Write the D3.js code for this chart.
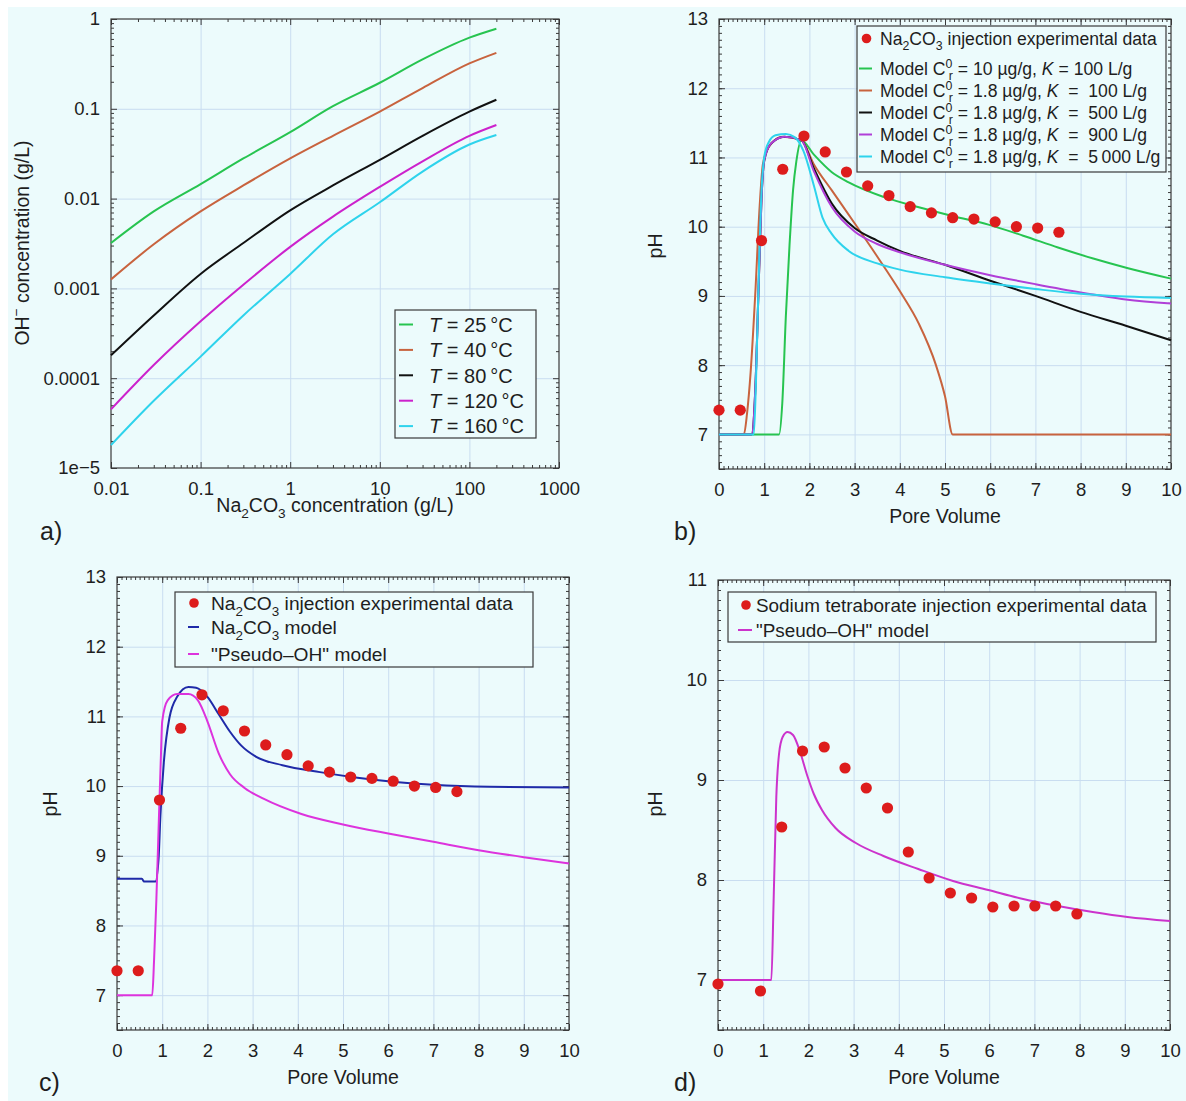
<!DOCTYPE html>
<html>
<head>
<meta charset="utf-8">
<script src="https://cdn.jsdelivr.net/npm/d3@7"></script>
<style>
  body { margin: 0; background: #fff; }
  svg { display: block; font-family: "Liberation Sans", Arial, Helvetica, sans-serif; }
</style>
</head>
<body>
<svg id="chart" width="1186" height="1101"></svg>
<script>
// ---- panel a: OH- vs Na2CO3 concentration (log-log)
const concX = [0.01, 0.03, 0.1, 0.3, 1, 3, 10, 30, 100, 200];
const oh25 = [0.0032, 0.0072, 0.0145, 0.028, 0.055, 0.107, 0.195, 0.355, 0.62, 0.78];
const oh40 = [0.00126, 0.0031, 0.0072, 0.014, 0.028, 0.05, 0.093, 0.17, 0.32, 0.42];
const oh80 = [0.00018, 0.0005, 0.00145, 0.0032, 0.0074, 0.014, 0.027, 0.05, 0.093, 0.126];
const oh120 = [0.000045, 0.00014, 0.00043, 0.0011, 0.0029, 0.0063, 0.0135, 0.026, 0.05, 0.066];
const oh160 = [0.000018, 0.000056, 0.000174, 0.0005, 0.00145, 0.004, 0.0091, 0.02, 0.04, 0.051];
const tempLabels = ['25', '40', '80', '120', '160'];
const logXTicks = [0.01, 0.1, 1, 10, 100, 1000];
const logXLabels = ['0.01', '0.1', '1', '10', '100', '1000'];
const logYTicks = [1e-5, 1e-4, 1e-3, 0.01, 0.1, 1];
const logYLabels = ['1e\u22125', '0.0001', '0.001', '0.01', '0.1', '1'];

// ---- panels b, c: Na2CO3 injection experimental data
const naPV = [0, 0.47, 0.94, 1.41, 1.88, 2.35, 2.82, 3.29, 3.76, 4.23, 4.70, 5.17, 5.64, 6.11, 6.58, 7.05, 7.52];
const naPH = [7.35, 7.35, 9.80, 10.83, 11.31, 11.08, 10.79, 10.59, 10.45, 10.29, 10.20, 10.13, 10.11, 10.07, 10.00, 9.98, 9.92];

// panel b models [pore volume, pH]
const modelC10K100 = [[0,7],[1.33,7],[1.40,7.45],[1.48,8.72],[1.56,9.73],[1.64,10.54],[1.71,10.94],[1.82,11.25],[2.1,11.04],[2.49,10.79],[2.87,10.64],[3.64,10.43],[4.42,10.28],[5.19,10.15],[5.96,10.03],[6.73,9.87],[7.5,9.7],[8.28,9.54],[9.05,9.4],[10,9.25]];
const modelK100 = [[0,7],[0.55,7],[0.62,7.3],[0.7,7.9],[0.8,9.0],[0.9,10.3],[0.97,10.9],[1.1,11.15],[1.4,11.3],[1.82,11.25],[2.1,10.9],[2.5,10.52],[3.0,10.05],[3.5,9.57],[4.0,9.07],[4.42,8.6],[4.8,8.0],[5.0,7.55],[5.17,7.0],[10,7]];
const modelK500 = [[0,7],[0.72,7],[0.8,7.6],[0.88,9.2],[0.94,10.4],[1.0,10.95],[1.15,11.2],[1.45,11.3],[1.82,11.25],[2.1,10.84],[2.5,10.33],[3.0,9.98],[3.5,9.8],[4.0,9.65],[5.0,9.45],[6.0,9.22],[7.0,9.0],[8.0,8.77],[9.0,8.57],[10,8.36]];
const modelK900 = [[0,7],[0.72,7],[0.8,7.6],[0.88,9.2],[0.94,10.4],[1.0,10.95],[1.15,11.2],[1.45,11.3],[1.82,11.25],[2.1,10.8],[2.5,10.28],[3.0,9.93],[3.5,9.75],[4.0,9.63],[5.0,9.45],[6.0,9.3],[7.0,9.17],[8.0,9.05],[9.0,8.95],[10,8.89]];
const modelK5000 = [[0,7],[0.77,7],[0.82,7.8],[0.88,9.3],[0.94,10.5],[1.0,11.0],[1.1,11.22],[1.25,11.32],[1.48,11.34],[1.68,11.29],[1.87,11.09],[2.1,10.59],[2.29,10.13],[2.49,9.9],[2.87,9.65],[3.5,9.47],[4.0,9.38],[5.0,9.27],[6.0,9.18],[7.0,9.1],[8.0,9.03],[9.0,8.99],[10,8.97]];
const modelCLabels = ['10', '1.8', '1.8', '1.8', '1.8'];
const modelKValues = ['100', '100', '500', '900', '5\u2009000'];

// panel c models
const naModel = [[0,8.67],[0.55,8.67],[0.6,8.63],[0.85,8.63],[0.92,8.96],[0.96,9.57],[1.04,10.37],[1.16,10.98],[1.33,11.28],[1.58,11.42],[1.75,11.41],[2.0,11.28],[2.25,11.03],[2.5,10.78],[2.75,10.58],[3.08,10.42],[3.66,10.3],[4.49,10.2],[5.32,10.12],[6.16,10.06],[6.99,10.02],[8.24,9.99],[10,9.98]];
const pseudoOHc = [[0,7],[0.78,7],[0.82,7.5],[0.87,8.35],[0.93,9.6],[0.97,10.4],[1.0,10.93],[1.12,11.23],[1.33,11.32],[1.58,11.32],[1.79,11.23],[2.0,10.93],[2.25,10.47],[2.5,10.17],[2.83,9.97],[3.24,9.82],[4.08,9.6],[5.0,9.45],[6.0,9.32],[7.0,9.2],[8.0,9.08],[9.0,8.98],[10,8.89]];

// ---- panel d: sodium tetraborate
const boratePV = [0, 0.94, 1.41, 1.87, 2.35, 2.81, 3.28, 3.75, 4.21, 4.67, 5.14, 5.61, 6.08, 6.55, 7.01, 7.47, 7.94];
const boratePH = [6.96, 6.89, 8.53, 9.29, 9.33, 9.12, 8.92, 8.72, 8.28, 8.02, 7.87, 7.82, 7.73, 7.74, 7.74, 7.74, 7.66];
const pseudoOHd = [[0,7],[1.18,7],[1.23,7.78],[1.29,8.83],[1.35,9.26],[1.43,9.43],[1.54,9.48],[1.66,9.45],[1.81,9.29],[1.97,9.05],[2.12,8.86],[2.3,8.7],[2.6,8.52],[3.05,8.37],[3.66,8.24],[4.43,8.11],[5.2,7.99],[5.98,7.9],[6.75,7.81],[7.52,7.74],[8.29,7.68],[9.06,7.63],[10,7.59]];

const pvTicks = d3.range(0, 11);
const BG = '#ecfbfc', GRID = '#c9ddf0', AXIS = '#3a3a3a', TXT = '#1e1e1e';
const RED = '#dd1c1c';
const TICK_FS = 18.5, TITLE_FS = 19.5, TAG_FS = 25;

const svg = d3.select('#chart');
svg.append('rect').attr('x', 8).attr('y', 7).attr('width', 1178).attr('height', 1094).attr('fill', BG);

// text with sub / sup / italic parts
function rich(sel, parts, fs) {
  let off = 0;
  parts.forEach(p => {
    const [t, kind] = typeof p === 'string' ? [p, ''] : p;
    const ts = sel.append('tspan').text(t);
    let target = 0;
    if (kind === 'sub') { target = 0.3 * fs; ts.attr('font-size', fs * 0.7); }
    if (kind === 'sup') { target = -0.4 * fs; ts.attr('font-size', fs * 0.7); }
    if (kind === 'subback') { target = 0.3 * fs; ts.attr('font-size', fs * 0.7).attr('dx', -fs * 0.2); }
    if (kind === 'i') ts.attr('font-style', 'italic');
    if (target !== off) ts.attr('dy', target - off);
    off = target;
  });
  return sel;
}

function addText(g, x, y, parts, fs, anchor, rotate) {
  const t = g.append('text').attr('x', x).attr('y', y).attr('font-size', fs)
    .attr('fill', TXT).attr('text-anchor', anchor || 'start').style('white-space', 'pre');
  if (rotate) t.attr('transform', `rotate(-90,${x},${y})`);
  return rich(t, parts, fs);
}

function drawFrame(g, x, y, o) {
  const [x0, x1] = x.range(), [y0, y1] = y.range();
  const w = x1 - x0, h = y0 - y1;
  const grid = (sel) => { sel.select('.domain').remove(); sel.selectAll('line').attr('stroke', GRID).attr('stroke-width', 1); };
  g.append('g').attr('transform', `translate(0,${y0})`)
    .call(d3.axisBottom(x).tickValues(o.xMajor.slice(1, -1)).tickSize(-h).tickFormat('')).call(grid);
  g.append('g').attr('transform', `translate(${x0},0)`)
    .call(d3.axisLeft(y).tickValues(o.yMajor.slice(1, -1)).tickSize(-w).tickFormat('')).call(grid);

  const sides = [
    [d3.axisBottom, x, `translate(0,${y0})`, o.xMajor, o.xMinor, o.xFmt],
    [d3.axisTop, x, `translate(0,${y1})`, o.xMajor, o.xMinor, null],
    [d3.axisLeft, y, `translate(${x0},0)`, o.yMajor, o.yMinor, o.yFmt],
    [d3.axisRight, y, `translate(${x1},0)`, o.yMajor, o.yMinor, null],
  ];
  sides.forEach(([axisFn, sc, tr, maj, min, fmt], k) => {
    const mi = g.append('g').attr('transform', tr)
      .call(axisFn(sc).tickValues(min).tickSize(-3).tickFormat(''));
    mi.select('.domain').remove();
    mi.selectAll('line').attr('stroke', AXIS);
    const ma = g.append('g').attr('transform', tr)
      .call(axisFn(sc).tickValues(maj).tickSize(-6).tickPadding(k === 0 ? 14 : 11)
        .tickFormat(fmt ? (d, i) => fmt[i] : ''));
    ma.select('.domain').remove();
    ma.attr('font-family', null).attr('font-size', TICK_FS);
    ma.selectAll('line').attr('stroke', AXIS);
    ma.selectAll('text').attr('fill', TXT);
  });
  g.append('rect').attr('x', x0).attr('y', y1).attr('width', w).attr('height', h)
    .attr('fill', 'none').attr('stroke', AXIS).attr('stroke-width', 1.2);
}

function drawLine(g, x, y, data, color) {
  g.append('path').datum(data)
    .attr('fill', 'none').attr('stroke', color).attr('stroke-width', 2).attr('stroke-linejoin', 'round')
    .attr('d', d3.line().x(d => x(d[0])).y(d => y(d[1])).curve(d3.curveMonotoneX));
}

function drawDots(g, x, y, xs, ys) {
  g.append('g').selectAll('circle').data(xs).join('circle')
    .attr('cx', d => x(d)).attr('cy', (d, i) => y(ys[i])).attr('r', 5.6).attr('fill', RED);
}

function drawLegend(g, box, rows, fs) {
  g.append('rect').attr('x', box[0]).attr('y', box[1]).attr('width', box[2] - box[0]).attr('height', box[3] - box[1])
    .attr('fill', BG).attr('stroke', AXIS).attr('stroke-width', 1.2);
  rows.forEach(r => {
    if (r.dot) {
      g.append('circle').attr('cx', r.sx[0]).attr('cy', r.y).attr('r', 4.8).attr('fill', RED);
    } else {
      g.append('line').attr('x1', r.sx[0]).attr('x2', r.sx[1]).attr('y1', r.y).attr('y2', r.y)
        .attr('stroke', r.color).attr('stroke-width', 2);
    }
    addText(g, r.tx, r.y + fs * 0.36, r.parts, fs);
  });
}

const linMinor = d3.range(0, 101).map(i => i / 10);
const pHMinor = (lo, hi) => d3.range(Math.round(lo * 10), Math.round(hi * 10) + 1).map(i => i / 10);
const pvLabels = pvTicks.map(String);

// ================= panel a =================
{
  const g = svg.append('g');
  const x = d3.scaleLog().domain([0.01, 1000]).range([111, 559]);
  const y = d3.scaleLog().domain([1e-5, 1]).range([468, 19]);
  const minorOf = (ticks) => ticks.slice(0, -1).flatMap(t => d3.range(2, 10).map(k => t * k));
  drawFrame(g, x, y, {
    xMajor: logXTicks, xMinor: minorOf(logXTicks), xFmt: logXLabels,
    yMajor: logYTicks, yMinor: minorOf(logYTicks), yFmt: logYLabels,
  });
  const series = [oh25, oh40, oh80, oh120, oh160];
  const colors = ['#27c450', '#c8633e', '#111111', '#cc22cc', '#2ed3ec'];
  series.forEach((s, i) => drawLine(g, x, y, concX.map((c, j) => [c, s[j]]), colors[i]));
  drawLegend(g, [395, 310, 536, 438], tempLabels.map((t, i) => ({
    y: 324.5 + i * 25.4, color: colors[i], sx: [399, 413], tx: 429,
    parts: [['T', 'i'], ' = ' + t + '\u2009\u00b0C'],
  })), 20);
  addText(g, 335, 512, ['Na', ['2', 'sub'], 'CO', ['3', 'sub'], ' concentration (g/L)'], TITLE_FS, 'middle');
  addText(g, 29, 243, ['OH', ['\u2212', 'sup'], ' concentration (g/L)'], TITLE_FS, 'middle', true);
  addText(g, 40, 540, ['a)'], TAG_FS);
}

// ================= panel b =================
{
  const g = svg.append('g');
  const x = d3.scaleLinear().domain([0, 10]).range([719, 1171]);
  const y = d3.scaleLinear().domain([6.5, 13]).range([469, 19]);
  const yT = d3.range(7, 14);
  drawFrame(g, x, y, {
    xMajor: pvTicks, xMinor: linMinor, xFmt: pvLabels,
    yMajor: [6.5, ...yT], yMinor: pHMinor(6.5, 13), yFmt: ['', ...yT.map(String)],
  });
  const models = [modelC10K100, modelK100, modelK500, modelK900, modelK5000];
  const colors = ['#27c450', '#c8633e', '#111111', '#b03fd8', '#2ed3ec'];
  models.forEach((m, i) => drawLine(g, x, y, m, colors[i]));
  drawDots(g, x, y, naPV, naPH);
  const fs = 17.6;
  const rows = [{ dot: true, y: 38.5, sx: [866.5], tx: 880, parts: ['Na', ['2', 'sub'], 'CO', ['3', 'sub'], ' injection experimental data'] }];
  modelCLabels.forEach((c, i) => rows.push({
    y: 68.5 + i * 22, color: colors[i], sx: [859, 872], tx: 880,
    parts: ['Model C', ['0', 'sup'], ['r', 'subback'], ' = ' + c + ' \u00b5g/g, ', ['K', 'i'], (i === 0 ? ' = ' : '  =  ') + modelKValues[i] + ' L/g'],
  }));
  drawLegend(g, [857, 26, 1166, 172], rows, fs);
  addText(g, 945, 523, ['Pore Volume'], TITLE_FS, 'middle');
  addText(g, 662, 246, ['pH'], TITLE_FS, 'middle', true);
  addText(g, 674, 540, ['b)'], TAG_FS);
}

// ================= panel c =================
{
  const g = svg.append('g');
  const x = d3.scaleLinear().domain([0, 10]).range([117, 569]);
  const y = d3.scaleLinear().domain([6.5, 13]).range([1030, 577]);
  const yT = d3.range(7, 14);
  drawFrame(g, x, y, {
    xMajor: pvTicks, xMinor: linMinor, xFmt: pvLabels,
    yMajor: [6.5, ...yT], yMinor: pHMinor(6.5, 13), yFmt: ['', ...yT.map(String)],
  });
  drawLine(g, x, y, naModel, '#1f2aa8');
  drawLine(g, x, y, pseudoOHc, '#dd33dd');
  drawDots(g, x, y, naPV, naPH);
  drawLegend(g, [175, 592, 533, 667], [
    { dot: true, y: 603, sx: [194], tx: 211, parts: ['Na', ['2', 'sub'], 'CO', ['3', 'sub'], ' injection experimental data'] },
    { y: 627, color: '#1f2aa8', sx: [188, 199], tx: 211, parts: ['Na', ['2', 'sub'], 'CO', ['3', 'sub'], ' model'] },
    { y: 654, color: '#dd33dd', sx: [188, 199], tx: 211, parts: ['"Pseudo\u2013OH" model'] },
  ], 19.2);
  addText(g, 343, 1084, ['Pore Volume'], TITLE_FS, 'middle');
  addText(g, 57, 804, ['pH'], TITLE_FS, 'middle', true);
  addText(g, 39, 1091, ['c)'], TAG_FS);
}

// ================= panel d =================
{
  const g = svg.append('g');
  const x = d3.scaleLinear().domain([0, 10]).range([718, 1170]);
  const y = d3.scaleLinear().domain([6.5, 11]).range([1030, 580]);
  const yT = d3.range(7, 12);
  drawFrame(g, x, y, {
    xMajor: pvTicks, xMinor: linMinor, xFmt: pvLabels,
    yMajor: [6.5, ...yT], yMinor: pHMinor(6.5, 11), yFmt: ['', ...yT.map(String)],
  });
  drawLine(g, x, y, pseudoOHd, '#cc33cc');
  drawDots(g, x, y, boratePV, boratePH);
  drawLegend(g, [728, 592, 1156, 642], [
    { dot: true, y: 605, sx: [746], tx: 756, parts: ['Sodium tetraborate injection experimental data'] },
    { y: 630, color: '#cc33cc', sx: [738, 752], tx: 756, parts: ['"Pseudo\u2013OH" model'] },
  ], 18.9);
  addText(g, 944, 1084, ['Pore Volume'], TITLE_FS, 'middle');
  addText(g, 662, 804, ['pH'], TITLE_FS, 'middle', true);
  addText(g, 674, 1091, ['d)'], TAG_FS);
}
</script>
</body>
</html>
